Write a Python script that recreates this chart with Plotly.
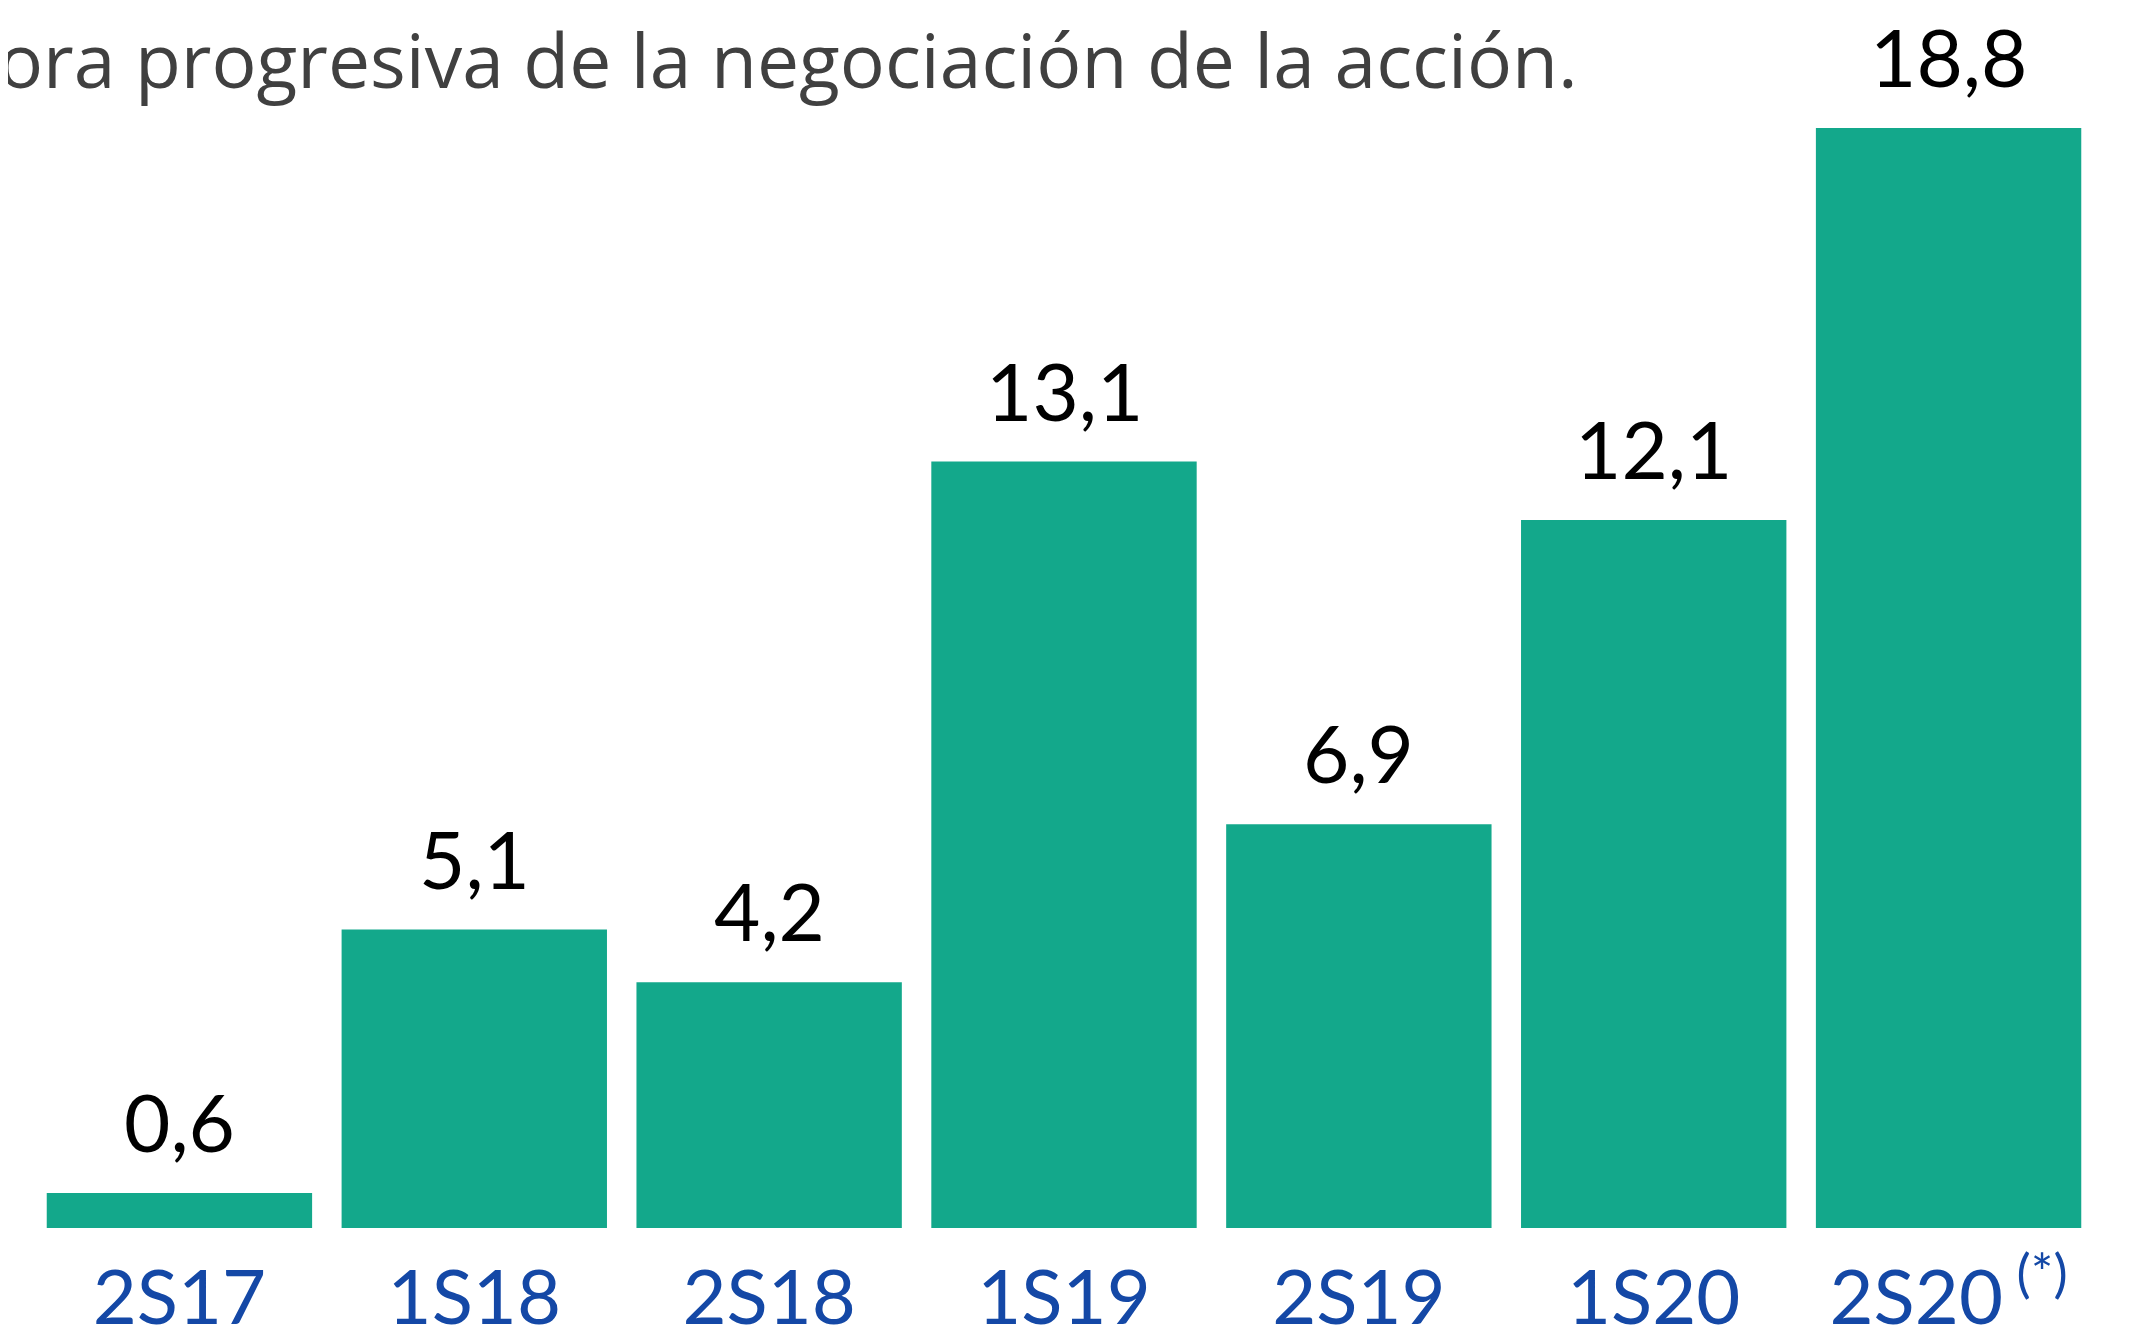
import plotly.graph_objects as go

periods = ['2S17', '1S18', '2S18', '1S19', '2S19', '1S20', '2S20']
tick_labels = ['2S17', '1S18', '2S18', '1S19', '2S19', '1S20', '2S20<sup> (*)</sup>']
values = [0.6, 5.1, 4.2, 13.1, 6.9, 12.1, 18.8]
title_text = 'ora progresiva de la negociación de la acción.'

C = {'bar': '#13A88B', 'value': '#000000', 'tick': '#1448A6', 'title': '#404040'}

fig = go.Figure()

fig.add_trace(go.Bar(
    x=periods, y=values,
    marker=dict(color=C['bar'], line=dict(width=0)),
    showlegend=False,
    hoverinfo='skip',
))

# value labels above bars
for p, v in zip(periods, values):
    fig.add_annotation(
        x=p, y=v, text=f'{v:.1f}'.replace('.', ','),
        xref='x', yref='y', yanchor='bottom', showarrow=False,
        yshift=22, font=dict(family='Lato', size=80, color=C['value']),
    )

fig.add_annotation(
    x=0, y=1, xref='paper', yref='paper', xanchor='left', yanchor='bottom',
    xshift=-36, yshift=-22, showarrow=False, text=title_text,
    font=dict(family='Open Sans', size=75, color=C['title']),
)

fig.update_layout(
    width=2131, height=1340,
    paper_bgcolor='white', plot_bgcolor='white',
    margin=dict(l=24, r=43, t=82, b=120),
    bargap=0.10,
    xaxis=dict(
        tickvals=periods, ticktext=tick_labels,
        tickfont=dict(family='Lato', size=76, color=C['tick']),
        ticks='outside', ticklen=4, tickcolor='rgba(0,0,0,0)',
        showline=False, showgrid=False, zeroline=False,
        automargin=False,
    ),
    yaxis=dict(range=[0, 19.45], visible=False, fixedrange=True),
)

fig.write_html('out.html')
